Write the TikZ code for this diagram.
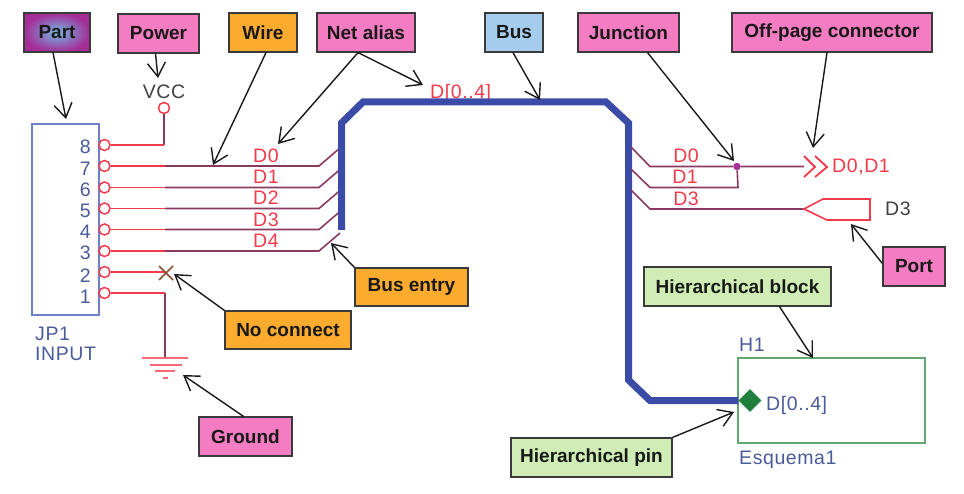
\documentclass[tikz,border=0pt]{standalone}
\usepackage{fontspec}
\setmainfont{Liberation Sans}
\newfontfamily\lblf[LetterSpace=3]{Liberation Sans}
\usetikzlibrary{arrows.meta,shapes.geometric}
\definecolor{pinkc}{HTML}{F47CC2}
\definecolor{orangec}{HTML}{FBAB2E}
\definecolor{bluec}{HTML}{A6CDEE}
\definecolor{greenc}{HTML}{CFEDB5}
\definecolor{busc}{HTML}{3A4BA8}
\definecolor{wirec}{HTML}{8A3A60}
\definecolor{redc}{HTML}{F23A4A}
\definecolor{textb}{HTML}{4A5B9C}
\definecolor{edgec}{HTML}{3A3A3A}
\definecolor{blockc}{HTML}{5FA870}
\definecolor{diac}{HTML}{1F7F3C}
\definecolor{bodyc}{HTML}{7080C8}
\definecolor{partin}{HTML}{70B8E2}
\definecolor{partout}{HTML}{A52D96}
\definecolor{junc}{HTML}{A8309A}
\definecolor{xbrown}{HTML}{8A5030}
\tikzset{
 lbox/.style={draw=edgec,line width=1.2pt,inner sep=0pt,font=\fontsize{19}{19}\selectfont\bfseries,text=black!90},
 pinkbox/.style={lbox,fill=pinkc},
 orangebox/.style={lbox,fill=orangec},
 bluebox/.style={lbox,fill=bluec},
 greenbox/.style={lbox,fill=greenc},
 partbox/.style={lbox,shade,shading=radial,inner color=partin,outer color=partout},
 call/.style={draw=black!90,line width=1.4pt,-{Straight Barb[length=14pt,width=18pt,line width=1.4pt]}},
 txt/.style={inner sep=0pt,font=\fontsize{19.5}{19.5}\selectfont\lblf},
 redt/.style={txt,text=redc},
 bluet/.style={txt,text=textb},
 grayt/.style={txt,text=black!75},
 pin/.style={circle,draw=redc,line width=1.5pt,minimum size=11pt,inner sep=0pt,fill=white},
 redw/.style={draw=redc,line width=1.6pt},
 purw/.style={draw=wirec,line width=1.6pt},
 busw/.style={draw=busc,line width=7pt,line join=miter},
}
\begin{document}
\begin{tikzpicture}[x=1pt,y=-1pt]
\useasboundingbox (0,0) rectangle (964,494);
% part body
\node[draw=bodyc,line width=1.4pt,minimum width=67pt,minimum height=191pt,inner sep=0pt] (jp) at (65.5,219.5) {};
% pins and wires
\foreach \n/\y/\ty in {8/145/147,7/166/169,6/187.5/190,5/208.5/211,4/229.5/232,3/251/253,2/272/276,1/293/297}{
  \node[pin] (p\n) at (104.5,\y) {};
  \node[bluet,anchor=east] (n\n) at (91,\ty) {\n};
}
\foreach \n/\y/\d/\ly in {7/166/0/156,6/187.5/1/177,5/208.5/2/198,4/229.5/3/220,3/251/4/241}{
  \coordinate (m\n) at (165,\y);
  \coordinate (e\n) at (319,\y);
  \coordinate (t\n) at (340,\y-18);
  \draw[redw] (p\n.east) -- (m\n);
  \draw[purw] (m\n) -- (e\n) -- (t\n);
  \node[redt] (dl\n) at (266,\ly) {D\d};
}
% VCC
\node[grayt] (vcc) at (164,92) {VCC};
\node[pin] (vp) at (164,108) {};
\coordinate (vc) at (164,145);
\draw[purw] (vp.south) -- (vc);
\draw[redw] (vc) -- (p8.east);
% no connect
\coordinate (xc) at (166,272);
\draw[redw] (p2.east) -- (xc);
\draw[draw=xbrown,line width=1.5pt] (159,266) -- (173,280) (173,266) -- (159,280);
% ground
\coordinate (g1) at (165,293);
\coordinate (g2) at (165,358);
\draw[redw] (p1.east) -- (g1);
\draw[purw] (g1) -- (g2);
\draw[draw=redc!75,line width=1.5pt] (142,358) -- (188,358) (150,365) -- (182,365) (155,371) -- (175,371) (163,378) -- (168,378);
% labels
\node[bluet,anchor=west] (jp1) at (35,334) {JP1};
\node[bluet,anchor=west] (inp) at (35,354) {INPUT};
% net alias
\node[redt,anchor=west] (alias) at (430,93) {D[0..4]};
% bus
\coordinate (b1) at (341.5,230);
\coordinate (b2) at (341.5,123);
\coordinate (b3) at (363,102);
\coordinate (b4) at (606,102);
\coordinate (b5) at (628.5,123);
\coordinate (b6) at (628.5,380);
\coordinate (b7) at (650,400.5);
% H block
\node[draw=blockc,line width=1.4pt,minimum width=187pt,minimum height=85pt,inner sep=0pt] (hb) at (831.5,400.5) {};
\node[diamond,fill=diac,minimum width=23pt,minimum height=23pt,inner sep=0pt] (dia) at (750,400.5) {};
\draw[busw] (b1) -- (b2) -- (b3) -- (b4) -- (b5) -- (b6) -- (b7) -- (dia.west);
\node[bluet,anchor=west] (dh) at (766,405) {D[0..4]};
\node[bluet,anchor=west] (h1) at (739,345) {H1};
\node[bluet,anchor=west] (esq) at (739,460) {Esquema1};
% right side wires
\coordinate (r1) at (631,147); \coordinate (r1b) at (650,166.5);
\coordinate (r2) at (631,169); \coordinate (r2b) at (650,187.5); \coordinate (r2c) at (738,187.5);
\coordinate (r3) at (631,190); \coordinate (r3b) at (650,209);
\node[circle,fill=junc,minimum size=7.5pt,inner sep=0pt] (jn) at (737,166.5) {};
\coordinate (opc) at (804,166.5);
\coordinate (prt) at (804,209);
\draw[purw] (r1) -- (r1b) -- (jn) -- (opc);
\draw[purw] (r2) -- (r2b) -- (r2c) -- (jn);
\draw[purw] (r3) -- (r3b) -- (prt);
\draw[draw=redc,line width=1.8pt] (804,156) -- (815,167) -- (804,177) (815,156) -- (827,167) -- (815,177);
\draw[redw] (prt) -- (823,199) -- (870,199) -- (870,220) -- (827,220) -- cycle;
\node[redt] (r0l) at (686,156) {D0};
\node[redt] (r1l) at (685,177) {D1};
\node[redt] (r3l) at (686,199) {D3};
\node[redt,anchor=west] (ddl) at (832,167) {D0,D1};
\node[grayt,anchor=west] (d3l) at (885,209) {D3};
% boxes
\node[partbox,minimum width=66pt,minimum height=39pt] (part) at (57,32.5) {Part};
\node[pinkbox,minimum width=81pt,minimum height=39pt] (power) at (158.5,33.5) {Power};
\node[orangebox,minimum width=68pt,minimum height=39pt] (wire) at (263,32.5) {Wire};
\node[pinkbox,minimum width=98pt,minimum height=39pt] (net) at (366,32.5) {Net alias};
\node[bluebox,minimum width=58pt,minimum height=39pt] (bus) at (514,32.5) {Bus};
\node[pinkbox,minimum width=101pt,minimum height=39pt] (junc) at (628.5,32.5) {Junction};
\node[pinkbox,minimum width=200pt,minimum height=39pt] (off) at (832,32.5) {Off-page connector};
\node[orangebox,minimum width=113pt,minimum height=38pt] (be) at (411.5,287) {Bus entry};
\node[orangebox,minimum width=126pt,minimum height=38pt] (nc) at (288,330) {No connect};
\node[pinkbox,minimum width=93pt,minimum height=39pt] (gnd) at (245.5,436.5) {Ground};
\node[pinkbox,minimum width=62pt,minimum height=39pt] (port) at (914,266.5) {Port};
\node[greenbox,minimum width=187pt,minimum height=39pt] (hbl) at (737.5,286.5) {Hierarchical block};
\node[greenbox,minimum width=161pt,minimum height=39pt] (hpl) at (591.5,457.5) {Hierarchical pin};
% callout targets
\coordinate (tpart) at (66,119);
\coordinate (tpow) at (158,78);
\coordinate (twire) at (213,165);
\coordinate (tnet1) at (278,144);
\coordinate (tnet2) at (423,85);
\coordinate (tbus) at (540,100);
\coordinate (tjun) at (734,161);
\coordinate (toff) at (813,148);
\coordinate (tbe) at (331,243);
\coordinate (tnc) at (174,274);
\coordinate (tgnd) at (183,375);
\coordinate (tport) at (851,224);
\coordinate (thb) at (813,358);
\coordinate (thp) at (734,412);
\draw[call] ([xshift=-4pt]part.south) -- (tpart);
\draw[call] ([xshift=-3pt]power.south) -- (tpow);
\draw[call] ([xshift=3pt]wire.south) -- (twire);
\draw[call] ([xshift=-8pt]net.south) -- (tnet1);
\draw[call] ([xshift=-8pt]net.south) -- (tnet2);
\draw[call] ([xshift=-1pt]bus.south) -- (tbus);
\draw[call] ([xshift=19pt]junc.south) -- (tjun);
\draw[call] ([xshift=-5pt]off.south) -- (toff);
\draw[call] (be.north west) -- (tbe);
\draw[call] (nc.north west) -- (tnc);
\draw[call] ([xshift=-2pt]gnd.north) -- (tgnd);
\draw[call] ([yshift=3pt]port.west) -- (tport);
\draw[call] ([xshift=42pt]hbl.south) -- (thb);
\draw[call] (hpl.north east) -- (thp);
\end{tikzpicture}
\end{document}
